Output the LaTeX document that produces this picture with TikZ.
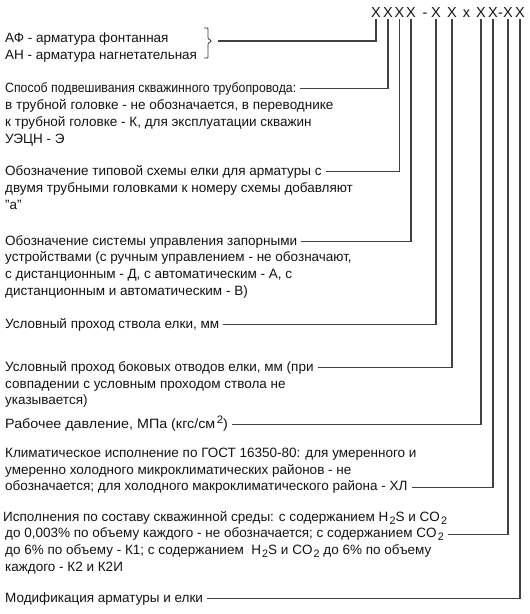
\documentclass[tikz,border=0pt]{standalone}
\usepackage{fontspec}
\setmainfont{Liberation Sans}
\newfontfamily\narrowsans[FakeStretch=0.91]{Liberation Sans}
\newfontfamily\widesans[FakeStretch=1.06]{Liberation Sans}
\newcommand\lo[1]{\raisebox{-3.2pt}{\fontsize{10.8}{10}\selectfont\kern1.2pt#1}}
\newcommand\hi[1]{\raisebox{4.6pt}{\fontsize{10.8}{10}\selectfont\kern1.5pt#1}}

\begin{document}
\begin{tikzpicture}[x=1pt, y=-1pt,
    txt/.style={anchor=base west, inner sep=0pt, align=left, font=\fontsize{13.5}{16.7}\selectfont, text=black!92},
    hd/.style={txt, inner xsep=4pt, text height=9.5pt, text depth=2.5pt},
    code/.style={anchor=base, inner sep=1pt, text depth=0pt, font=\fontsize{14.5}{16}\selectfont, text=black!92},
    ln/.style={line width=1.3pt, draw=black!75}
]
\fill[white] (0,0) rectangle (530,614);
\useasboundingbox (0,0) rectangle (530,614);

% code string
\node[code] (c1) at (376,17.5) {X};
\node[code] (c2) at (388,17.5) {X};
\node[code] (c3) at (399.5,17.5) {X};
\node[code] (c4) at (411,17.5) {X};
\node[code] (d1) at (425,17.5) {-};
\node[code] (c5) at (436,17.5) {X};
\node[code] (c6) at (452,17.5) {X};
\node[code] (tm) at (466.5,17.5) {x};
\node[code] (c7) at (481,17.5) {X};
\node[code] (c8) at (493,17.5) {X};
\node[code] (d2) at (500.5,17.5) {-};
\node[code] (c9) at (508,17.5) {X};
\node[code] (c10) at (520,17.5) {X};

% descriptions (multi-line nodes sit on their last baseline)
\node[txt] (af) at (5,59) {АФ - арматура фонтанная\\АН - арматура нагнетательная};
\draw[black!80, line width=0.8pt, rounded corners=0.8pt]
    (204,28) -- (208,28) -- (208,38.5) -- (211.5,41) -- (208,43.5) -- (208,58) -- (204,58);
\coordinate (brk) at (218,41);

\node[hd] (susp) at (1,92) {\narrowsans Способ подвешивания скважинного трубопровода:};
\node[txt] (susp2) at (5,143) {в трубной головке - не обозначается, в переводнике\\к трубной головке - К, для эксплуатации скважин\\УЭЦН - Э};

\node[hd] (scheme) at (1,175) {Обозначение типовой схемы елки для арматуры с};
\node[txt] (scheme2) at (5,209) {двумя трубными головками к номеру схемы добавляют\\"а"};

\node[hd] (ctrl) at (1,245) {Обозначение системы управления запорными};
\node[txt] (ctrl2) at (5,295.1) {устройствами (с ручным управлением - не обозначают,\\с дистанционным - Д, с автоматическим - А, с\\дистанционным и автоматическим - В)};

\node[hd] (bore) at (1,328) {Условный проход ствола елки, мм};

\node[hd] (side) at (1,371) {Условный проход боковых отводов елки, мм (при};
\node[txt] (side2) at (5,404.7) {совпадении с условным проходом ствола не\\указывается)};

\node[hd] (press) at (1,428) {\widesans Рабочее давление, МПа (кгс/см\hi{2})};

\node[txt] (clim) at (5,474) {Климатическое исполнение по ГОСТ 16350-80: для умеренного и\\умеренно холодного микроклиматических районов - не};
\node[hd] (clim2) at (1,490.7) {обозначается; для холодного макроклиматического района - ХЛ};

\node[txt] (env) at (3,521) {Исполнения по составу скважинной среды: с содержанием H\lo{2}S и CO\lo{2}};
\node[hd] (env2) at (1,537.7) {до 0,003\% по объему каждого - не обозначается; с содержанием CO\lo{2}};
\node[txt] (env3) at (5,571.1) {до 6\% по объему - К1; с содержанием\ \ H\lo{2}S и CO\lo{2} до 6\% по объему\\каждого - К2 и К2И};

\node[hd] (mod) at (1,602) {Модификация арматуры и елки};

% connectors
\draw[ln] (brk) -| (c1.south);
\draw[ln] (susp.east) -| (c2.south);
\draw[ln] (scheme.east) -| (c3.south);
\draw[ln] (ctrl.east) -| (c4.south);
\draw[ln] (bore.east) -| (c5.south);
\draw[ln] (side.east) -| (c6.south);
\draw[ln] (press.east) -| (c7.south);
\draw[ln] (clim2.east) -| (c8.south);
\draw[ln] (env2.east) -| (c9.south);
\draw[ln] (mod.east) -| (c10.south);
\end{tikzpicture}
\end{document}
